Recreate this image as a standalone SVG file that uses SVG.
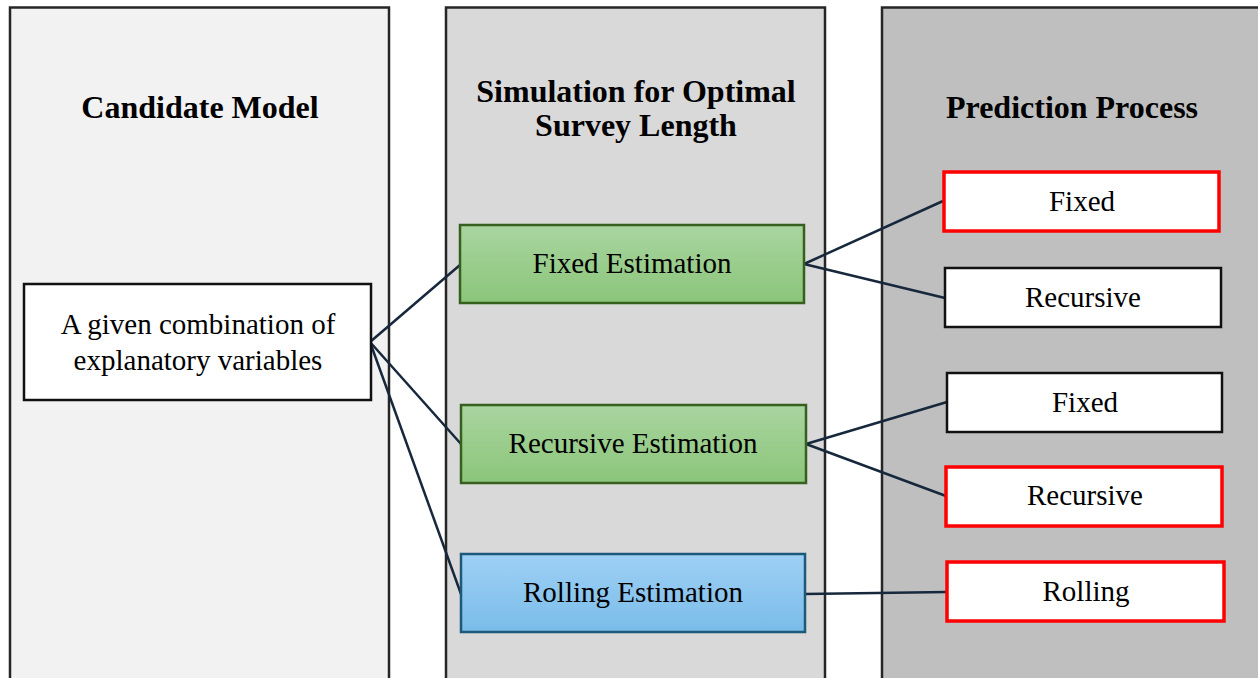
<svg xmlns="http://www.w3.org/2000/svg" width="1258" height="678" viewBox="0 0 1258 678">
<defs>
<linearGradient id="gGreen" x1="0" y1="0" x2="0" y2="1"><stop offset="0" stop-color="#a9d5a0"/><stop offset="1" stop-color="#8bc57a"/></linearGradient>
<linearGradient id="gBlue" x1="0" y1="0" x2="0" y2="1"><stop offset="0" stop-color="#9fd0f5"/><stop offset="1" stop-color="#79bce9"/></linearGradient>
<style>
.col{stroke:#262626;stroke-width:2.5}
.hd{font-family:"Liberation Serif","Times New Roman",serif;font-weight:bold;font-size:32px;fill:#000;text-anchor:middle}
.tx{font-family:"Liberation Serif","Times New Roman",serif;font-size:29px;fill:#000;text-anchor:middle}
.wb{fill:#fff;stroke:#111;stroke-width:2.5}
.rb{fill:#fff;stroke:#ff0000;stroke-width:3.5}
.gb{fill:url(#gGreen);stroke:#37601f;stroke-width:2.5}
.bb{fill:url(#gBlue);stroke:#1d5a7a;stroke-width:2.5}
.cn{stroke:#17283c;stroke-width:2.5;fill:none}
</style>
</defs>
<g id="columns">
<rect class="col" x="10" y="7.5" width="379" height="700" fill="#f2f2f2"/>
<rect class="col" x="446" y="7.5" width="379" height="700" fill="#d9d9d9"/>
<rect class="col" x="882" y="7.5" width="400" height="700" fill="#bfbfbf"/>
<text class="hd" x="200" y="118">Candidate Model</text>
<text class="hd" x="636" y="102">Simulation for Optimal</text>
<text class="hd" x="636" y="136">Survey Length</text>
<text class="hd" x="1072" y="118">Prediction Process</text>
</g>
<g id="connectors">
<line class="cn" x1="370" y1="342" x2="460" y2="265"/>
<line class="cn" x1="370" y1="342" x2="461" y2="444"/>
<line class="cn" x1="370" y1="342" x2="461" y2="594"/>
<line class="cn" x1="804" y1="264" x2="943" y2="201"/>
<line class="cn" x1="804" y1="264" x2="945" y2="298"/>
<line class="cn" x1="806" y1="444" x2="947" y2="402"/>
<line class="cn" x1="806" y1="444" x2="946" y2="496"/>
<line class="cn" x1="805" y1="594" x2="947" y2="592"/>
</g>
<g id="candidate">
<rect class="wb" x="24" y="284" width="347" height="116"/>
<text class="tx" x="198" y="334">A given combination of</text>
<text class="tx" x="198" y="370">explanatory variables</text>
</g>
<g id="fixedEst">
<rect class="gb" x="460" y="225" width="344" height="78"/>
<text class="tx" x="632" y="273">Fixed Estimation</text>
</g>
<g id="recursiveEst">
<rect class="gb" x="461" y="405" width="345" height="78"/>
<text class="tx" x="633" y="453">Recursive Estimation</text>
</g>
<g id="rollingEst">
<rect class="bb" x="461" y="554" width="344" height="78"/>
<text class="tx" x="633" y="602">Rolling Estimation</text>
</g>
<g id="pFixed1">
<rect class="rb" x="944" y="172" width="275" height="59"/>
<text class="tx" x="1082" y="211">Fixed</text>
</g>
<g id="pRecursive1">
<rect class="wb" x="945" y="268" width="276" height="59"/>
<text class="tx" x="1083" y="307">Recursive</text>
</g>
<g id="pFixed2">
<rect class="wb" x="947" y="373" width="275" height="59"/>
<text class="tx" x="1085" y="412">Fixed</text>
</g>
<g id="pRecursive2">
<rect class="rb" x="946" y="467" width="276" height="59"/>
<text class="tx" x="1085" y="505">Recursive</text>
</g>
<g id="pRolling">
<rect class="rb" x="947" y="562" width="277" height="59"/>
<text class="tx" x="1086" y="601">Rolling</text>
</g>
</svg>
